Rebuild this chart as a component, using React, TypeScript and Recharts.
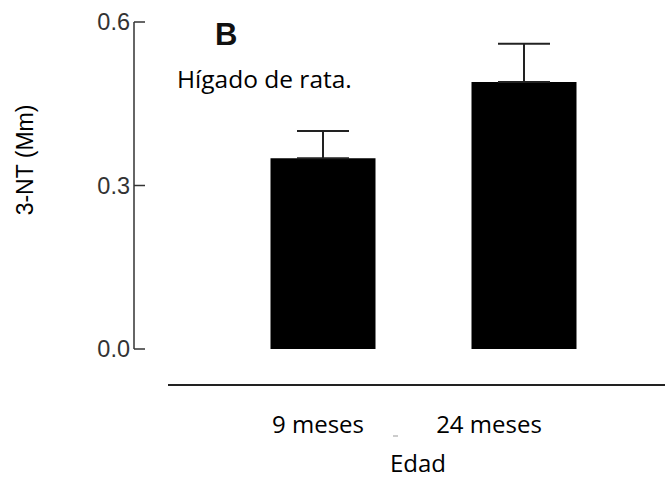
import { ComposedChart, Bar, XAxis, YAxis, ErrorBar, Customized } from "recharts";

const categories = ["9 meses", "24 meses"];
const means = [0.35, 0.49];
const sem = [0.05, 0.07];
const yTicks = [0, 0.3, 0.6];

// label offsets from bar centre, as in the original figure
const labelShift = [-5, -35];

const data = categories.map((c, i) => ({
  name: c,
  value: means[i],
  err: [0, sem[i]],
}));

const AXIS_X = 134;
const axisColor = "#333";
const calibri = "'Open Sans', sans-serif";
const helv = "'Liberation Sans', Arial, sans-serif";

const YTick = (props: any) => {
  const { y, payload } = props;
  return (
    <g>
      <line x1={AXIS_X} x2={AXIS_X + 11} y1={y} y2={y} stroke={axisColor} strokeWidth={1.5} />
      <text x={AXIS_X - 4} y={y + 8} textAnchor="end" fontFamily={helv} fontSize={23.5} fill="#333">
        {Number(payload.value).toFixed(1)}
      </text>
    </g>
  );
};

const XTick = (props: any) => {
  const { x, payload, index } = props;
  return (
    <text
      x={x + (labelShift[index] ?? 0)}
      y={433}
      textAnchor="middle"
      fontFamily={calibri}
      fontSize={24}
      fill="#000"
    >
      {payload.value}
    </text>
  );
};

const Decor = () => (
  <g>
    <text x={215} y={45} fontFamily={helv} fontWeight="bold" fontSize={31} fill="#111">
      B
    </text>
    <text x={177} y={88} fontFamily={calibri} fontSize={24.5} fill="#000">
      Hígado de rata.
    </text>
    <text
      x={33}
      y={160}
      transform="rotate(-90, 33, 160)"
      textAnchor="middle"
      fontFamily={helv}
      fontSize={23}
      fill="#000"
    >
      3-NT (Mm)
    </text>
    <text x={418} y={472} textAnchor="middle" fontFamily={calibri} fontSize={24} fill="#000">
      Edad
    </text>
    <line x1={168} x2={665} y1={385} y2={385} stroke="#222" strokeWidth={2} />
    <line x1={393} x2={398} y1={436} y2={436} stroke="#999" strokeWidth={1} />
  </g>
);

export default function App() {
  return (
    <div style={{ position: "absolute", left: 0, top: 0, background: "#fff" }}>
      <ComposedChart
        width={665}
        height={479}
        data={data}
        margin={{ top: 22, right: 0, left: 0, bottom: 0 }}
      >
        <XAxis
          dataKey="name"
          height={130}
          padding={{ left: 88.5, right: 40.5 }}
          axisLine={false}
          tickLine={false}
          tick={<XTick />}
          interval={0}
        />
        <YAxis
          width={AXIS_X}
          domain={[0, 0.6]}
          ticks={yTicks}
          interval={0}
          axisLine={{ stroke: axisColor, strokeWidth: 1.5 }}
          tickLine={false}
          tick={<YTick />}
        />
        <Bar dataKey="value" fill="#000" barSize={105} isAnimationActive={false}>
          <ErrorBar
            dataKey="err"
            direction="y"
            width={26}
            stroke="#222"
            strokeWidth={2}
            isAnimationActive={false}
          />
        </Bar>
        <Customized component={Decor} />
      </ComposedChart>
    </div>
  );
}
